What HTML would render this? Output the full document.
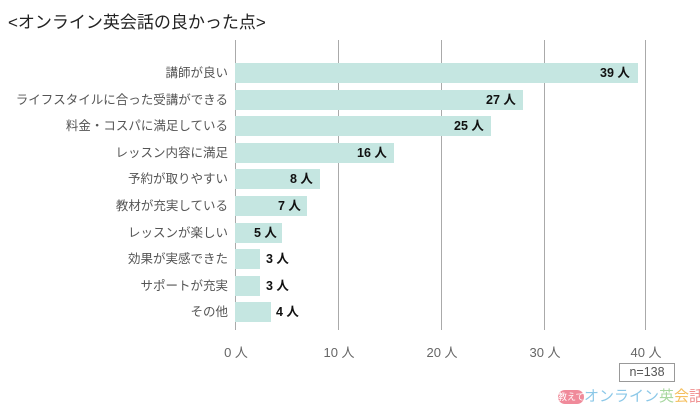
<!DOCTYPE html><html><head><meta charset="utf-8"><style>
body{margin:0;width:700px;height:406px;background:#fff;overflow:hidden;font-family:"Liberation Sans","Noto Sans CJK JP",sans-serif;position:relative}
.a{position:absolute}
.t{left:8px;top:8px;font-size:17px;color:#222;white-space:nowrap}
.g{width:1px;top:40px;height:290px;background:#aaa}
.l{right:472px;font-size:12.5px;color:#555;white-space:nowrap;line-height:20px;text-align:right}
.b{left:235px;height:20px;background:#c5e6e1}
.v{font-size:12.5px;font-weight:bold;color:#111;line-height:20px;white-space:nowrap}
.x{top:342px;font-size:13px;color:#666;white-space:nowrap;transform:translateX(-50%)}
</style></head><body>
<div class="a t">&lt;オンライン英会話の良かった点&gt;</div>
<div class="a g" style="left:235px"></div><div class="a g" style="left:338px"></div><div class="a g" style="left:441px"></div><div class="a g" style="left:544px"></div><div class="a g" style="left:645px"></div>
<div class="a x" style="left:236px">0 人</div><div class="a x" style="left:339px">10 人</div><div class="a x" style="left:442px">20 人</div><div class="a x" style="left:545px">30 人</div><div class="a x" style="left:646px">40 人</div>
<div class="a" style="left:619px;top:363px;width:54px;height:17px;border:1px solid #999;font-size:12.5px;color:#555;text-align:center;line-height:17px">n=138</div>
<div class="a" style="left:558px;top:385px;font-size:15px;color:#8cc8e8;white-space:nowrap"><span style="display:inline-block;width:26px;height:14px;border-radius:7px;background:#f08a9a;color:#fff;font-size:9px;text-align:center;line-height:14px;vertical-align:1px">教えて</span>オンライン<span style="color:#a8d8a0">英</span><span style="color:#f5c060">会</span><span style="color:#f09090">話</span></div>
<div class="a l" style="top:63px">講師が良い</div><div class="a b" style="top:63px;width:403px"></div><div class="a v" style="top:63px;left:600px">39 人</div>
<div class="a l" style="top:90px">ライフスタイルに合った受講ができる</div><div class="a b" style="top:90px;width:288px"></div><div class="a v" style="top:90px;left:486px">27 人</div>
<div class="a l" style="top:116px">料金・コスパに満足している</div><div class="a b" style="top:116px;width:256px"></div><div class="a v" style="top:116px;left:454px">25 人</div>
<div class="a l" style="top:143px">レッスン内容に満足</div><div class="a b" style="top:143px;width:159px"></div><div class="a v" style="top:143px;left:357px">16 人</div>
<div class="a l" style="top:169px">予約が取りやすい</div><div class="a b" style="top:169px;width:85px"></div><div class="a v" style="top:169px;left:290px">8 人</div>
<div class="a l" style="top:196px">教材が充実している</div><div class="a b" style="top:196px;width:72px"></div><div class="a v" style="top:196px;left:278px">7 人</div>
<div class="a l" style="top:223px">レッスンが楽しい</div><div class="a b" style="top:223px;width:47px"></div><div class="a v" style="top:223px;left:254px">5 人</div>
<div class="a l" style="top:249px">効果が実感できた</div><div class="a b" style="top:249px;width:25px"></div><div class="a v" style="top:249px;left:266px">3 人</div>
<div class="a l" style="top:276px">サポートが充実</div><div class="a b" style="top:276px;width:25px"></div><div class="a v" style="top:276px;left:266px">3 人</div>
<div class="a l" style="top:302px">その他</div><div class="a b" style="top:302px;width:36px"></div><div class="a v" style="top:302px;left:276px">4 人</div>
</body></html>
